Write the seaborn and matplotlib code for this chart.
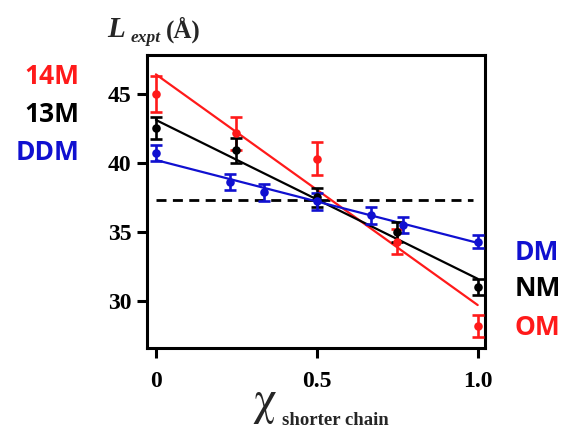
import matplotlib
matplotlib.use("Agg")
import matplotlib.pyplot as plt
import seaborn as sns
import pandas as pd
import numpy as np

# --- data ---
red_x = [0.0, 0.25, 0.5, 0.75, 1.0]
red_y = [45.0, 42.15, 40.3, 34.3, 28.2]
red_err = [1.3, 1.2, 1.2, 0.9, 0.8]
red_fit_x = [0.0, 1.0]
red_fit_y = [46.4, 29.7]

black_x = [0.0, 0.25, 0.5, 0.75, 1.0]
black_y = [42.5, 40.9, 37.5, 35.0, 31.0]
black_err = [0.8, 0.9, 0.7, 0.7, 0.6]
black_fit_x = [0.0, 1.0]
black_fit_y = [43.1, 31.6]

blue_x = [0.0, 0.23, 0.335, 0.5, 0.668, 0.768, 1.0]
blue_y = [40.7, 38.6, 37.85, 37.2, 36.2, 35.5, 34.3]
blue_err = [0.6, 0.6, 0.6, 0.6, 0.6, 0.6, 0.5]
blue_fit_x = [0.0, 1.0]
blue_fit_y = [40.2, 34.2]

dash_x = [0.0, 0.985]
dash_y = [37.3, 37.3]

xticks = [0, 0.5, 1.0]
xtick_labels = ["0", "0.5", "1.0"]
yticks = [30, 35, 40, 45]
ytick_labels = ["30", "35", "40", "45"]

left_labels = ["14M", "13M", "DDM"]
right_labels = ["DM", "NM", "OM"]

sns.set_style("white")
plt.rcParams["mathtext.fontset"] = "stix"
RED = "#ff1a1a"
BLACK = "#000000"
BLUE = "#1010d0"

fig = plt.figure(figsize=(5.65, 4.30), dpi=100)
ax = fig.add_axes([0.260, 0.191, 0.598, 0.681])

series = [
    (red_x, red_y, red_err, red_fit_x, red_fit_y, RED),
    (black_x, black_y, black_err, black_fit_x, black_fit_y, BLACK),
    (blue_x, blue_y, blue_err, blue_fit_x, blue_fit_y, BLUE),
]

sns.lineplot(x=dash_x, y=dash_y, ax=ax, color="black", lw=2.0,
             linestyle=(0, (3.6, 2.3)), zorder=1)

for xs, ys, es, fx, fy, c in series:
    fit = pd.DataFrame({"x": fx, "y": fy})
    sns.lineplot(data=fit, x="x", y="y", ax=ax, color=c, lw=1.6, zorder=2)
    ax.errorbar(xs, ys, yerr=es, fmt="none", ecolor=c, elinewidth=1.9,
                capsize=4.5, capthick=1.9, zorder=3)
    pts = pd.DataFrame({"x": xs, "y": ys})
    sns.scatterplot(data=pts, x="x", y="y", ax=ax, color=c, s=38,
                    edgecolor=c, linewidth=0, zorder=4)

ax.set_xlim(-0.028, 1.022)
ax.set_ylim(26.6, 47.8)
ax.set_xticks(xticks)
ax.set_xticklabels(xtick_labels)
ax.set_yticks(yticks)
ax.set_yticklabels(ytick_labels)
ax.set_xlabel("")
ax.set_ylabel("")
for s in ax.spines.values():
    s.set_linewidth(2.2)
    s.set_color("black")
ax.tick_params(direction="out", length=7, width=2.2, colors="black",
               bottom=True, left=True)
ax.tick_params(axis="x", pad=10)
ax.tick_params(axis="y", pad=4)
for lab in ax.get_xticklabels() + ax.get_yticklabels():
    lab.set_fontfamily("Liberation Serif")
    lab.set_fontweight("bold")
    lab.set_fontsize(17)

# y title
fig.text(0.189, 0.914, "L", fontsize=21, family="Liberation Serif",
         fontweight="bold", style="italic", ha="left", va="baseline")
fig.text(0.232, 0.902, "expt", fontsize=12.5, family="Liberation Serif",
         fontweight="bold", style="italic", ha="left", va="baseline")
fig.text(0.294, 0.912, "(Å)", fontsize=18, family="Liberation Serif",
         fontweight="bold", ha="left", va="baseline")

# x title
fig.text(0.446, 0.038, r"$\mathrm{\chi}$", fontsize=34,
         ha="left", va="baseline")
fig.text(0.499, 0.012, "shorter chain", fontsize=13.5, family="Liberation Serif",
         fontweight="bold", ha="left", va="baseline")

# series labels
for lbl, c, y in zip(left_labels, [RED, BLACK, BLUE], [0.821, 0.733, 0.646]):
    fig.text(0.140, y, lbl, color=c, fontsize=19, family="Open Sans",
             fontweight="bold", ha="right", va="center")
for lbl, c, y in zip(right_labels, [BLUE, BLACK, RED], [0.413, 0.328, 0.239]):
    fig.text(0.910, y, lbl, color=c, fontsize=19, family="Open Sans",
             fontweight="bold", ha="left", va="center")

fig.savefig("out.png", dpi=100)
